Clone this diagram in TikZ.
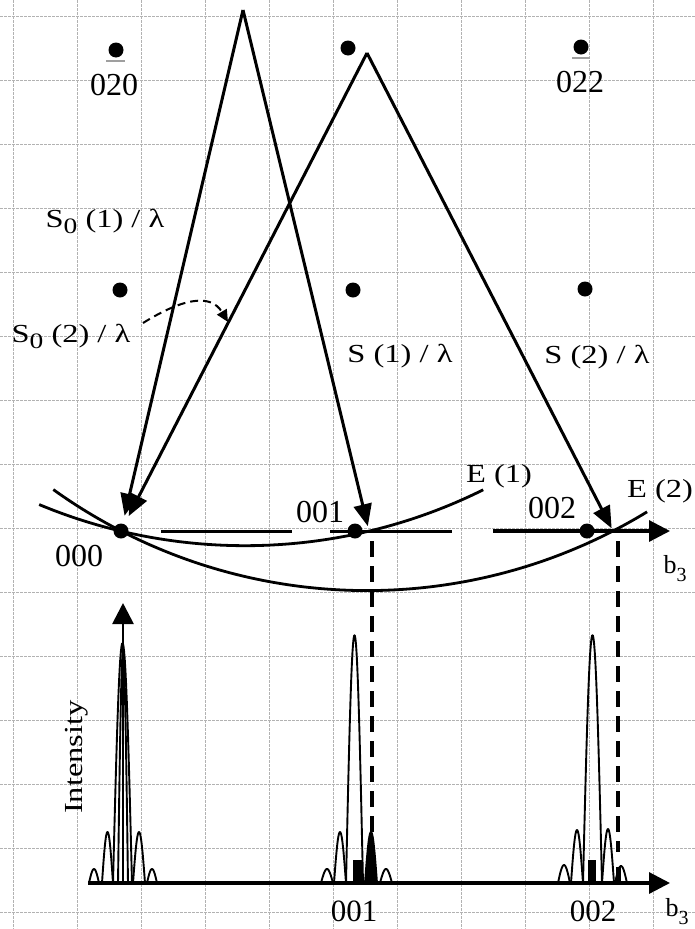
\documentclass[tikz,border=0pt]{standalone}
\usepackage{graphicx}
\usepackage{fontspec}
\setmainfont{Liberation Serif}
\usetikzlibrary{arrows.meta,calc}
\newcommand{\lobe}[3]{\draw[peak] plot[domain=0:180,samples=30] ({#1+(#2-#1)*\x/180},{883-(883-#3)*sin(\x)});}
\newcommand{\flobe}[3]{\filldraw[peak] plot[domain=0:180,samples=30] ({#1+(#2-#1)*\x/180},{883-(883-#3)*sin(\x)}) -- cycle;}
\newcommand{\wid}[1]{\scalebox{1.25}[1]{#1}}
\newcommand{\Szero}{S\raisebox{-6pt}{\fontsize{22}{22}\selectfont 0}}
\newcommand{\bthree}{b\raisebox{-8pt}{\fontsize{20}{20}\selectfont 3}}
\tikzset{
  gridl/.style={gray!60, line width=0.7pt, dash pattern=on 2.5pt off 1.5pt},
  latdot/.style={circle, fill=black, inner sep=0pt, minimum size=15pt},
  vec/.style={line width=3pt, -{Triangle[length=22pt,width=18pt]}},
  ewald/.style={line width=2.8pt},
  axseg/.style={line width=3pt},
  axarrow/.style={line width=3.2pt, -{Triangle[length=21pt,width=21pt]}},
  vline/.style={line width=3.8pt, dash pattern=on 16pt off 9pt},
  peak/.style={line width=1.9pt, line join=round},
  txtlab/.style={font=\fontsize{26}{30}\selectfont, inner sep=0pt, anchor=base},
  numlab/.style={font=\fontsize{32}{36}\selectfont, inner sep=0pt, anchor=base},
  overbar/.style={gray!75, line width=2.2pt}
}
\begin{document}
\begin{tikzpicture}[x=1pt,y=-1pt]
\useasboundingbox (0,0) rectangle (695,929);
\fill[white] (0,0) rectangle (695,929);
% background grid
\foreach \gx in {13,77,...,653} \draw[gridl] (\gx,0) -- (\gx,929);
\foreach \gy in {16,80,...,912} \draw[gridl] (0,\gy) -- (695,\gy);

% reciprocal lattice points
\node[latdot] (p020) at (116,50) {};
\node[latdot] (p021) at (348,48) {};
\node[latdot] (p022) at (581,47) {};
\node[latdot] (p010) at (120,290) {};
\node[latdot] (p011) at (353,290) {};
\node[latdot] (p012) at (585,289) {};
\node[latdot] (p000) at (121,531) {};
\node[latdot] (p001) at (355,531) {};
\node[latdot] (p002) at (587,531) {};

% lattice labels
\draw[overbar] (106,61) -- (125,61);
\draw[overbar] (572,58) -- (590,58);
\node[numlab] (l020) at (114,95) {020};
\node[numlab] (l022) at (580,92) {022};
\node[numlab] (l000) at (79,566) {000};
\node[numlab] (l001) at (320,522) {001};
\node[numlab] (l002) at (552,518) {002};

% apexes and intersections
\coordinate (A1) at (243,10);
\coordinate (A2) at (367,53);
\coordinate (X1) at (369,531);
\coordinate (X2) at (613,531);

% b3 axis (segments)
\coordinate (s1a) at (161,531); \coordinate (s1b) at (292,531);
\coordinate (s2a) at (330,531); \coordinate (s2b) at (452,531);
\coordinate (s3a) at (493,531); \coordinate (s3b) at (670,531);
\draw[axseg] (s1a) -- (s1b);
\draw[axseg] (s2a) -- (s2b);
\draw[axarrow] (s3a) -- (s3b);
\node[txtlab] (b3u) at (675,573) {\bthree};

% Ewald spheres
\draw[ewald] plot[domain=63.6:112.6, samples=90] ({245+535.7*cos(\x)},{10+535.7*sin(\x)});
\draw[ewald] plot[domain=58.6:125.7, samples=110] ({367+537.6*cos(\x)},{53+537.6*sin(\x)});
\node[txtlab] (e1) at (499,482) {\wid{E (1)}};
\node[txtlab] (e2) at (660,497) {\wid{E (2)}};

% wave vectors
\draw[vec, shorten >=8pt] (A1) -- (p000);
\draw[vec, shorten >=5pt] (A1) -- (X1);
\draw[vec, shorten >=9pt] (A2) -- (p000);
\draw[vec, shorten >=3pt] (A2) -- (X2);

\node[txtlab] (s01) at (105,227) {\wid{\Szero\ (1) / λ}};
\node[txtlab] (s02) at (71,342) {\wid{\Szero\ (2) / λ}};
\node[txtlab] (s1) at (400,362) {\wid{S (1) / λ}};
\node[txtlab] (s2) at (597,363) {\wid{S (2) / λ}};

% dashed pointer
\coordinate (d0) at (143,323);
\coordinate (d1) at (228,322);
\draw[line width=2pt, dash pattern=on 8pt off 5pt, -{Triangle[length=12pt,width=11pt]}]
  (d0) .. controls (180,300) and (210,292) .. (d1);

% dashed projection lines
\coordinate (v1a) at (372,541); \coordinate (v1b) at (372,880);
\coordinate (v2a) at (618,541); \coordinate (v2b) at (618,852);
\draw[vline] (v1a) -- (v1b);
\draw[vline] (v2a) -- (v2b);

% intensity plot
\coordinate (o) at (123,883);
\coordinate (bl) at (88,883);
\coordinate (br) at (670,883);
\coordinate (it) at (123,603);
% peaks at 000
\lobe{89}{99}{869}
\lobe{102}{113}{832}
\lobe{113}{132}{643}
\lobe{118}{128}{652}
\lobe{133}{145}{832}
\lobe{147}{157}{869}
% peaks at 001
\lobe{321}{333}{869}
\lobe{334}{346}{832}
\lobe{346}{363}{635}
\fill (353,883) rectangle (362,860);
\flobe{365}{377}{832}
\lobe{380}{392}{869}
% peaks at 002
\lobe{558}{570}{865}
\lobe{571}{583}{830}
\lobe{583}{602}{635}
\fill (588,883) rectangle (596,860);
\lobe{602}{614}{829}
\lobe{615}{627}{866}
\fill (616,883) rectangle (621,867);

\draw[axarrow] (bl) -- (br);
\draw[axarrow, line width=2.8pt] (o) -- (it);

\node[txtlab, rotate=90, anchor=center] (int) at (77,757) {\wid{Intensity}};
\node[numlab, font=\fontsize{31}{34}\selectfont] (m001) at (354,921) {001};
\node[numlab, font=\fontsize{31}{34}\selectfont] (m002) at (593,921) {002};
\node[txtlab] (b3l) at (677,916) {\bthree};
\end{tikzpicture}
\end{document}
